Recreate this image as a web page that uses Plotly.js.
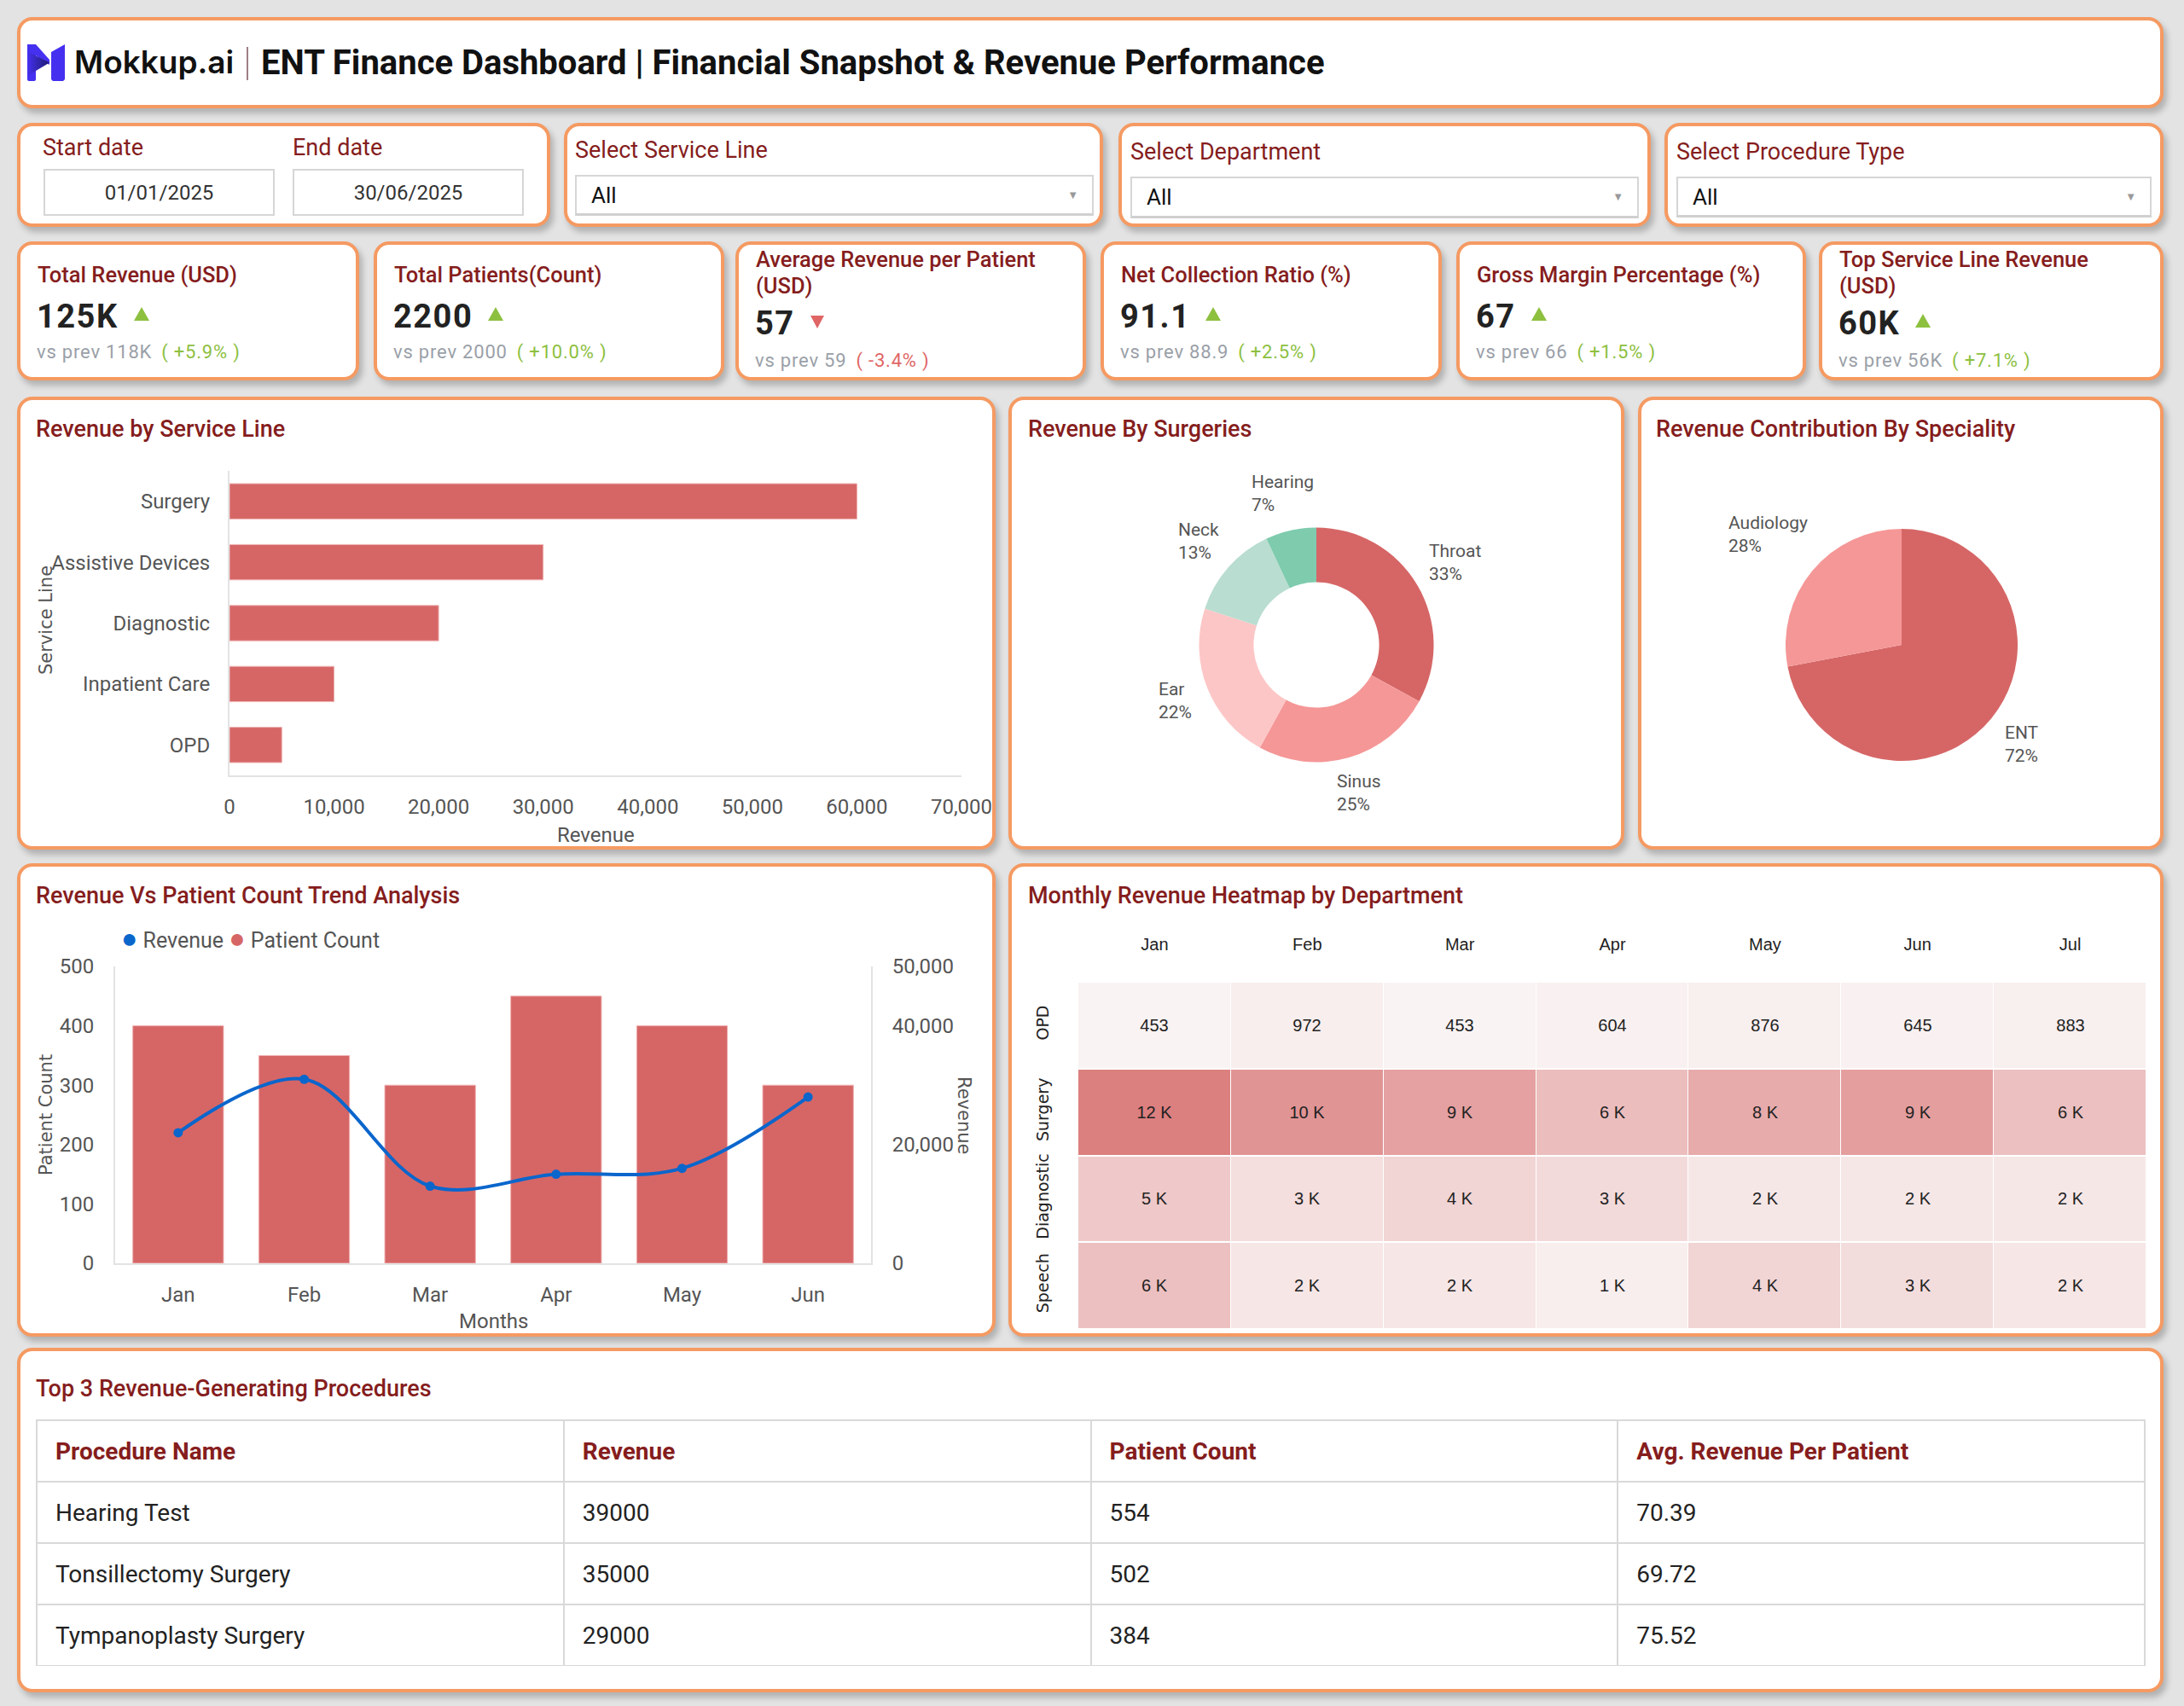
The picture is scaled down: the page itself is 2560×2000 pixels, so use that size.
<!DOCTYPE html>
<html>
<head>
<meta charset="utf-8">
<script src="https://cdn.plot.ly/plotly-3.0.1.min.js"></script>
<style>
  html, body { margin:0; padding:0; }
  body { width:2560px; height:2000px; background:#e3e3e3; position:relative; overflow:hidden; font-family:Roboto, "Liberation Sans", sans-serif; }
  .card { position:absolute; box-sizing:border-box; background:#fff; border:4px solid #F59A62; border-radius:18px; box-shadow:4px 6px 7px rgba(0,0,0,0.22); }
  .abs { position:absolute; white-space:nowrap; }
  .ctitle { font-size:27px; font-weight:500; color:#851D1D; line-height:32px; }
  .flabel { font-size:27px; color:#851D1D; line-height:32px; }
  .box { position:absolute; box-sizing:border-box; border:2px solid #d6d6d6; background:#fff; display:flex; align-items:center; }
  .ktitle { font-size:25.5px; font-weight:500; color:#851D1D; line-height:31px; white-space:normal; }
  .kval { font-size:38px; font-weight:700; color:#222; letter-spacing:1.5px; line-height:46px; }
  .kvs { font-size:22px; color:#9aa0a8; letter-spacing:0.8px; line-height:28px; }
  .plot { position:absolute; }
</style>
</head>
<body>
<script>
// ---------------- DATA ----------------
const dashboardTitle = 'ENT Finance Dashboard | Financial Snapshot & Revenue Performance';
const brandName = 'Mokkup.ai';

const filterDates = ['01/01/2025', '30/06/2025'];
const filterDateLabels = ['Start date', 'End date'];
const filterLabels = ['Select Service Line', 'Select Department', 'Select Procedure Type'];
const filterValues = ['All', 'All', 'All'];

const kpiTitles = ['Total Revenue (USD)', 'Total Patients(Count)', 'Average Revenue per Patient (USD)', 'Net Collection Ratio (%)', 'Gross Margin Percentage (%)', 'Top Service Line Revenue (USD)'];
const kpiValues = ['125K', '2200', '57', '91.1', '67', '60K'];
const kpiPrev = ['118K', '2000', '59', '88.9', '66', '56K'];
const kpiChange = ['+5.9%', '+10.0%', '-3.4%', '+2.5%', '+1.5%', '+7.1%'];

const serviceLines = ['Surgery', 'Assistive Devices', 'Diagnostic', 'Inpatient Care', 'OPD'];
const serviceRevenue = [60000, 30000, 20000, 10000, 5000];

const surgeryTypes = ['Throat', 'Sinus', 'Ear', 'Neck', 'Hearing'];
const surgeryShare = [33, 25, 22, 13, 7];

const specialities = ['ENT', 'Audiology'];
const specialityShare = [72, 28];

const trendMonths = ['Jan', 'Feb', 'Mar', 'Apr', 'May', 'Jun'];
const patientCount = [400, 350, 300, 450, 400, 300];
const monthlyRevenue = [22000, 31000, 13000, 15000, 16000, 28000];

const heatMonths = ['Jan', 'Feb', 'Mar', 'Apr', 'May', 'Jun', 'Jul'];
const departments = ['OPD', 'Surgery', 'Diagnostic', 'Speech'];
const opdRevenue = [453, 972, 453, 604, 876, 645, 883];
const surgeryRevenue = [12000, 9900, 8600, 5800, 7600, 8900, 5500];
const diagnosticRevenue = [4600, 2500, 3500, 2900, 1600, 1600, 1600];
const speechRevenue = [5500, 1700, 1700, 1000, 3500, 2700, 1700];

const tableHeaders = ['Procedure Name', 'Revenue', 'Patient Count', 'Avg. Revenue Per Patient'];
const procNames = ['Hearing Test', 'Tonsillectomy Surgery', 'Tympanoplasty Surgery'];
const procRevenue = [39000, 35000, 29000];
const procPatients = [554, 502, 384];
const procAvgRevenue = [70.39, 69.72, 75.52];

// ---------------- LAYOUT HELPERS ----------------
const RED = '#D66666', MAROON = '#851D1D', GREEN = '#8DC03F', NEG = '#E06666';
function add(css, html, cls) {
  const d = document.createElement('div');
  d.className = cls || 'abs';
  Object.assign(d.style, css);
  if (html !== undefined) d.innerHTML = html;
  document.body.appendChild(d);
  return d;
}
function px(v) { return v + 'px'; }
function card(b) { add({ left: px(b[0]), top: px(b[1]), width: px(b[2]), height: px(b[3]) }, '', 'card'); }

const B = {
  header: [20, 20, 2516, 107],
  date: [20, 144, 625, 122], service: [661, 144, 632, 122], dept: [1311, 144, 624, 122], proc: [1951, 144, 585, 122],
  kpi: [[20, 283, 401, 163], [438, 283, 411, 163], [862, 283, 411, 163], [1290, 283, 400, 163], [1707, 283, 410, 163], [2132, 283, 404, 163]],
  A: [20, 465, 1147, 531], Bc: [1182, 465, 722, 531], C: [1920, 465, 616, 531],
  D: [20, 1012, 1147, 555], E: [1182, 1012, 1354, 555], F: [20, 1580, 2516, 404]
};

[B.header, B.date, B.service, B.dept, B.proc, ...B.kpi, B.A, B.Bc, B.C, B.D, B.E, B.F].forEach(card);

// ---------------- HEADER ----------------
add({ left: '32px', top: '52px', width: '44px', height: '43px' },
  '<svg width="44" height="43" viewBox="0 0 44 43"><defs><linearGradient id="g1" x1="0" x2="1" y1="0" y2="0"><stop offset="0" stop-color="#4630F0"/><stop offset="1" stop-color="#1E1B70"/></linearGradient></defs>' +
  '<rect x="0" y="0" width="10" height="43" rx="2" fill="#4630F0"/>' +
  '<polygon points="28,9 44,0 44,41 42,43 30,43 28,41" fill="#4630F0"/>' +
  '<polygon points="0,0 10,0 26,18 26,24 0,6" fill="#4630F0"/>' +
  '<polygon points="0,8 26,21.5 0,37" fill="url(#g1)"/></svg>');
add({ left: '87px', top: '50px', fontFamily: 'Inter, Roboto, sans-serif', fontWeight: '600', fontSize: '37px', color: '#111', lineHeight: '46px' }, brandName);
add({ left: '289px', top: '55px', width: '2px', height: '39px', background: '#9E7F86' }, '');
add({ left: '306px', top: '50px', fontWeight: '700', fontSize: '40px', color: '#111', lineHeight: '48px' }, dashboardTitle);

// ---------------- FILTERS ----------------
const dateLabelX = [50, 343], dateBoxX = [51, 343];
filterDateLabels.forEach((t, i) => {
  add({ left: px(dateLabelX[i]), top: px(173 - 16) }, t, 'abs flabel');
  add({ left: px(dateBoxX[i]), top: '198px', width: '271px', height: '55px', justifyContent: 'center', fontSize: '24px', color: '#333' }, filterDates[i], 'box');
});
const fl = [[674, 176, 674, 205, 608, 48], [1325, 178, 1325, 207, 596, 49], [1965, 178, 1965, 207, 557, 48]];
filterLabels.forEach((t, i) => {
  const f = fl[i];
  add({ left: px(f[0]), top: px(f[1] - 16) }, t, 'abs flabel');
  add({ left: px(f[2]), top: px(f[3]), width: px(f[4]), height: px(f[5]), paddingLeft: '17px', fontSize: '26px', color: '#111', borderBottom: '3px solid #d0d0d0' },
    filterValues[i] + '<span style="position:absolute;right:16px;top:50%;transform:translateY(-55%);font-size:13px;color:#999">&#9660;</span>', 'box');
});

// ---------------- KPI CARDS ----------------
kpiTitles.forEach((t, i) => {
  const [x, y, w, h] = B.kpi[i];
  const td = add({ left: px(x + 24), top: '0px', width: '350px' }, t, 'abs ktitle');
  const lines = Math.round(td.offsetHeight / 31);
  const tc = lines > 1 ? y + 21 : y + 39;
  td.style.top = px(tc - 15.5);
  const vc = lines > 1 ? y + 96 : y + 88;
  const sc = lines > 1 ? y + 140 : y + 130;
  const up = kpiChange[i].charAt(0) !== '-';
  const tri = up
    ? '<span style="display:inline-block;width:0;height:0;border-left:9px solid transparent;border-right:9px solid transparent;border-bottom:16px solid ' + GREEN + ';margin-left:18px;vertical-align:middle;position:relative;top:-6px"></span>'
    : '<span style="display:inline-block;width:0;height:0;border-left:8px solid transparent;border-right:8px solid transparent;border-top:15px solid ' + NEG + ';margin-left:18px;vertical-align:middle;position:relative;top:-4px"></span>';
  add({ left: px(x + 23), top: px(vc - 23) }, kpiValues[i] + tri, 'abs kval');
  add({ left: px(x + 23), top: px(sc - 14) }, 'vs prev ' + kpiPrev[i] +
    '<span style="margin-left:11px;color:' + (up ? GREEN : NEG) + '">( ' + kpiChange[i] + ' )</span>', 'abs kvs');
});

// ---------------- CARD TITLES ----------------
const chartTitles = [
  ['Revenue by Service Line', 42, 503], ['Revenue By Surgeries', 1205, 503], ['Revenue Contribution By Speciality', 1941, 503],
  ['Revenue Vs Patient Count Trend Analysis', 42, 1050], ['Monthly Revenue Heatmap by Department', 1205, 1050],
  ['Top 3 Revenue-Generating Procedures', 42, 1628]
];
chartTitles.forEach(c => add({ left: px(c[1]), top: px(c[2] - 16) }, c[0], 'abs ctitle'));

function plotDiv(id, b) {
  const d = add({ left: px(b[0]), top: px(b[1]), width: px(b[2]), height: px(b[3]) }, '', 'plot');
  d.id = id; return d;
}
const cfg = { staticPlot: true, displayModeBar: false };
const transparent = 'rgba(0,0,0,0)';
const axisTitleFont = { family: 'DejaVu Sans', size: 21, color: '#555' };
function paperX(p, m, W) { return (p - m.l) / (W - m.l - m.r); }
function paperY(p, m, H) { return (H - m.b - p) / (H - m.t - m.b); }
function ann(text, x, y, extra) {
  return Object.assign({ text: text, xref: 'paper', yref: 'paper', x: x, y: y, xanchor: 'center', yanchor: 'middle', showarrow: false }, extra || {});
}

// pie labels placed radially from the slice values
function pieLabels(labels, values, cx, cy, r, W, H, fontSize, gap) {
  const ctx = document.createElement('canvas').getContext('2d');
  ctx.font = fontSize + 'px Roboto';
  const sum = values.reduce((a, b) => a + b, 0);
  const hBlock = fontSize * 2.3;
  let cum = 0;
  return labels.map((lab, i) => {
    const frac = values[i] / sum;
    const mid = (cum + frac / 2) * 2 * Math.PI; cum += frac;
    const dx = Math.sin(mid), dy = -Math.cos(mid);
    const pct = Math.round(frac * 100) + '%';
    const w = Math.max(ctx.measureText(lab).width, ctx.measureText(pct).width);
    const d = r + gap + Math.abs(dx) * w / 2 + Math.abs(dy) * hBlock / 2;
    return ann(lab + '<br>' + pct, (cx + dx * d) / W, 1 - (cy + dy * d) / H,
      { align: 'left', font: { family: 'Roboto', size: fontSize, color: '#555' } });
  });
}

// ---------------- A: Revenue by Service Line ----------------
(function () {
  const W = B.A[2], H = B.A[3], m = { l: 249, r: 40, t: 87, b: 87 };
  plotDiv('chartA', B.A);
  Plotly.newPlot('chartA', [{
    type: 'bar', orientation: 'h', y: serviceLines, x: serviceRevenue,
    marker: { color: RED, line: { color: '#F0B3B3', width: 1 } }, hoverinfo: 'none'
  }], {
    width: W, height: H, margin: m, paper_bgcolor: transparent, plot_bgcolor: transparent,
    bargap: 0.42, showlegend: false,
    font: { family: 'Roboto', size: 24, color: '#555' },
    xaxis: { range: [0, 70000], dtick: 10000, tickformat: ',', showgrid: false, zeroline: false, showline: true, linecolor: '#e3e3e3', linewidth: 2, ticks: '', ticklabelstandoff: 14 },
    yaxis: { autorange: 'reversed', showgrid: false, zeroline: false, showline: true, linecolor: '#e3e3e3', linewidth: 2, ticks: '', ticklabelstandoff: 16 },
    annotations: [
      ann('Revenue', 0.5, paperY(514, m, H), { font: { family: 'Roboto', size: 24, color: '#555' } }),
      ann('Service Line', paperX(34, m, W), paperY(262, m, H), { textangle: -90, font: axisTitleFont })
    ]
  }, cfg);
})();

// ---------------- B: Revenue By Surgeries (donut) ----------------
(function () {
  const W = B.Bc[2], H = B.Bc[3], cx = 361, cy = 291, r = 137.5;
  plotDiv('chartB', B.Bc);
  Plotly.newPlot('chartB', [{
    type: 'pie', labels: surgeryTypes, values: surgeryShare, sort: false, direction: 'clockwise', rotation: 0, hole: 0.535,
    marker: { colors: ['#D66666', '#F59797', '#FDC6C6', '#B9DDD0', '#7ECBAE'] },
    textinfo: 'none', hoverinfo: 'none',
    domain: { x: [(cx - r) / W, (cx + r) / W], y: [(H - cy - r) / H, (H - cy + r) / H] }
  }], {
    width: W, height: H, margin: { l: 0, r: 0, t: 0, b: 0 }, paper_bgcolor: transparent, showlegend: false,
    annotations: pieLabels(surgeryTypes, surgeryShare, cx, cy, r, W, H, 21, 13)
  }, cfg);
})();

// ---------------- C: Revenue Contribution By Speciality (pie) ----------------
(function () {
  const W = B.C[2], H = B.C[3], cx = 309, cy = 291, r = 136;
  plotDiv('chartC', B.C);
  Plotly.newPlot('chartC', [{
    type: 'pie', labels: specialities, values: specialityShare, sort: false, direction: 'clockwise', rotation: 0,
    marker: { colors: ['#D66666', '#F59797'] },
    textinfo: 'none', hoverinfo: 'none',
    domain: { x: [(cx - r) / W, (cx + r) / W], y: [(H - cy - r) / H, (H - cy + r) / H] }
  }], {
    width: W, height: H, margin: { l: 0, r: 0, t: 0, b: 0 }, paper_bgcolor: transparent, showlegend: false,
    annotations: pieLabels(specialities, specialityShare, cx, cy, r, W, H, 21, 16)
  }, cfg);
})();

// ---------------- D: Revenue Vs Patient Count ----------------
(function () {
  const W = B.D[2], H = B.D[3], m = { l: 115, r: 146, t: 121, b: 86 };
  plotDiv('chartD', B.D);
  Plotly.newPlot('chartD', [
    { type: 'scatter', mode: 'lines+markers', x: trendMonths, y: monthlyRevenue, yaxis: 'y2', name: 'Revenue',
      line: { color: '#0B66CC', width: 4, shape: 'spline', smoothing: 1 }, marker: { color: '#0B66CC', size: 11 }, hoverinfo: 'none' },
    { type: 'bar', x: trendMonths, y: patientCount, name: 'Patient Count', marker: { color: RED, line: { color: '#F0B3B3', width: 1 } }, hoverinfo: 'none' }
  ], {
    width: W, height: H, margin: m, paper_bgcolor: transparent, plot_bgcolor: transparent, bargap: 0.28, showlegend: false,
    font: { family: 'Roboto', size: 24, color: '#555' },
    xaxis: { showgrid: false, zeroline: false, showline: true, linecolor: '#e3e3e3', linewidth: 2, ticks: '', ticklabelstandoff: 14 },
    yaxis: { range: [0, 500], dtick: 100, showgrid: false, zeroline: false, showline: true, linecolor: '#e3e3e3', linewidth: 2, ticks: '', ticklabelstandoff: 18 },
    yaxis2: { overlaying: 'y', side: 'right', range: [0, 50000], tickvals: [0, 20000, 40000, 50000], tickformat: ',', showgrid: false, zeroline: false, showline: true, linecolor: '#e3e3e3', linewidth: 2, ticks: '', ticklabelstandoff: 18 },
    annotations: [
      ann('<span style="color:#0B66CC;font-size:32px">●</span> Revenue <span style="color:' + RED + ';font-size:32px">●</span> Patient Count',
        paperX(120, m, W), paperY(88, m, H), { xanchor: 'left', font: { family: 'Roboto', size: 25, color: '#555' } }),
      ann('Months', 0.5, paperY(537, m, H), { font: { family: 'Roboto', size: 24, color: '#555' } }),
      ann('Patient Count', paperX(34, m, W), 0.5, { textangle: -90, font: axisTitleFont }),
      ann('Revenue', paperX(1110, m, W), 0.5, { textangle: 90, font: axisTitleFont })
    ]
  }, cfg);
})();

// ---------------- E: Heatmap ----------------
(function () {
  const W = B.E[2], H = B.E[3], m = { l: 82, r: 20, t: 139, b: 9 };
  const z = [opdRevenue, surgeryRevenue, diagnosticRevenue, speechRevenue];
  const txt = z.map(row => row.map(v => v >= 1000 ? Math.round(v / 1000) + ' K' : String(v)));
  plotDiv('chartE', B.E);
  Plotly.newPlot('chartE', [{
    type: 'heatmap', x: heatMonths, y: departments, z: z, text: txt, texttemplate: '%{text}',
    textfont: { family: 'Liberation Sans', size: 20, color: '#222' },
    colorscale: [[0, '#F9F3F3'], [1, '#DC7F7F']], showscale: false, xgap: 1, ygap: 2, hoverinfo: 'none'
  }], {
    width: W, height: H, margin: m, paper_bgcolor: transparent, plot_bgcolor: '#fff',
    xaxis: { side: 'top', showgrid: false, zeroline: false, showline: false, ticks: '', ticklabelstandoff: 32, tickfont: { family: 'Liberation Sans', size: 20, color: '#222' } },
    yaxis: { autorange: 'reversed', showgrid: false, zeroline: false, showline: false, ticks: '', tickangle: -90, ticklabelstandoff: 30, tickfont: { family: 'DejaVu Sans', size: 19, color: '#222' } }
  }, cfg);
})();

// ---------------- F: Table ----------------
(function () {
  const W = B.F[2], H = B.F[3];
  const x0 = 23, x1 = 2494, top = 85, bottom = 373, dx = 14, dy = 12, hx = 5;
  const cols = [procNames, procRevenue.map(String), procPatients.map(String), procAvgRevenue.map(v => v.toFixed(2))];
  plotDiv('chartF', B.F);
  Plotly.newPlot('chartF', [
    { type: 'table', domain: { x: [x0 / W, x1 / W], y: [(H - bottom) / H, (H - top) / H] },
      header: { values: tableHeaders.map(() => ' '), height: 72, fill: { color: '#fff' }, line: { color: '#d9d9d9', width: 2 } },
      cells: { values: cols.map(c => c.map(() => ' ')), height: 72, fill: { color: '#fff' }, line: { color: '#d9d9d9', width: 2 } } },
    { type: 'table', domain: { x: [(x0 + dx) / W, (x1 + dx) / W], y: [(H - bottom - dy - hx) / H, (H - top - dy) / H] },
      header: { values: tableHeaders.map(h => '<b>' + h + '</b>'), height: 72 + hx, align: 'left', fill: { color: transparent }, line: { color: transparent, width: 0 },
        font: { family: 'Roboto', size: 28, color: MAROON } },
      cells: { values: cols, height: 72, align: 'left', fill: { color: transparent }, line: { color: transparent, width: 0 },
        font: { family: 'Roboto', size: 28, color: '#222' } } }
  ], { width: W, height: H, margin: { l: 0, r: 0, t: 0, b: 0 }, paper_bgcolor: transparent }, cfg);
})();
</script>
</body>
</html>
